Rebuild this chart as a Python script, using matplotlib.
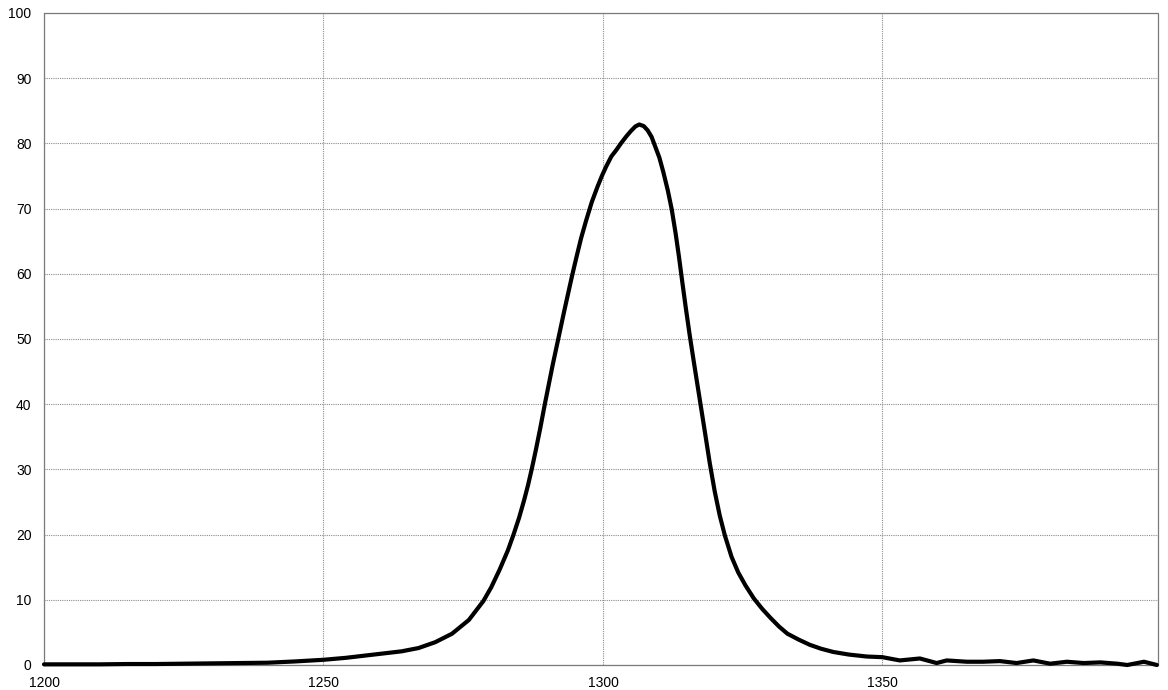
import matplotlib
matplotlib.use("Agg")
import matplotlib.pyplot as plt

# Spectrum values
wavelength = [
    1200, 1205, 1210, 1215, 1220, 1225, 1230, 1235, 1240, 1245,
    1250, 1254, 1258, 1261, 1264, 1267, 1270, 1273, 1276, 1278.6,
    1280, 1281.5, 1283, 1284, 1285, 1285.9, 1286.6, 1287.3, 1288.0, 1288.8,
    1289.6, 1290.3, 1291, 1291.7, 1292.4, 1293.1, 1293.8, 1294.5, 1295.3, 1296.1,
    1297.0, 1298.0, 1299.0, 1299.8, 1300.6, 1301.5, 1302.4, 1303.3, 1304.2, 1305.0,
    1305.8, 1306.5, 1307.3, 1308.0, 1308.7, 1309.4, 1310.1, 1310.8, 1311.6, 1312.3,
    1313.0, 1313.6, 1314.2, 1314.8, 1315.5, 1316.2, 1316.9, 1317.6, 1318.3, 1319.1,
    1320.0, 1320.9, 1321.8, 1323.0, 1324.2, 1325.5, 1327.0, 1328.5, 1330.0, 1331.5,
    1333.0, 1335.0, 1337.0, 1339.0, 1341.2, 1344.0, 1347.2, 1350.0, 1353.1, 1356.7,
    1359.7, 1361.5, 1365.1, 1368.0, 1371.0, 1374.0, 1377.0, 1380.0, 1383.0, 1386.0,
    1389.0, 1392.0, 1393.8, 1396.8, 1399.1,
]
intensity = [
    0.1, 0.1, 0.1, 0.15, 0.15, 0.2, 0.25, 0.3, 0.35, 0.55,
    0.8, 1.1, 1.5, 1.8, 2.1, 2.6, 3.5, 4.8, 6.9, 9.8,
    11.9, 14.6, 17.6, 20.0, 22.6, 25.3, 27.6, 30.2, 33.0, 36.4,
    40.0, 43.0, 46.0, 48.8, 51.6, 54.4, 57.1, 59.8, 62.7, 65.5,
    68.2, 71.0, 73.3, 75.0, 76.5, 78.0, 79.0, 80.1, 81.1, 81.9,
    82.6, 82.9, 82.65, 82.0, 81.0, 79.4, 77.8, 75.6, 72.8, 69.9,
    66.2, 62.6, 58.7, 54.9, 50.7, 46.8, 43.0, 39.2, 35.4, 31.0,
    26.6, 22.9, 19.9, 16.6, 14.2, 12.2, 10.2, 8.6, 7.2, 5.9,
    4.8, 3.9, 3.1, 2.5, 2.0, 1.6, 1.3, 1.2, 0.7, 1.0,
    0.3, 0.7, 0.5, 0.5, 0.6, 0.3, 0.7, 0.2, 0.5, 0.3,
    0.4, 0.2, 0.0, 0.5, 0.0,
]

x_ticks = [1200, 1250, 1300, 1350]
y_ticks = [0, 10, 20, 30, 40, 50, 60, 70, 80, 90, 100]

plt.rcParams["font.family"] = ["Liberation Sans", "DejaVu Sans"]

fig = plt.figure(figsize=(11.68, 6.90), dpi=100)
ax = fig.add_axes([44 / 1168, 25 / 690, (1158 - 44) / 1168, (665 - 13) / 690])

ax.plot(wavelength, intensity, color="black", linewidth=3.0,
        solid_joinstyle="round", solid_capstyle="round", clip_on=False, zorder=3)

ax.set_xlim(1200, 1399.3)
ax.set_ylim(0, 100)
ax.set_xticks(x_ticks)
ax.set_yticks(y_ticks)

# Excel-like dotted grey grid, no tick marks
ax.grid(True, color="#8c8c8c", linestyle=(0, (1, 1)), linewidth=0.8)
ax.tick_params(length=0, labelsize=10, colors="black")
ax.tick_params(axis="y", pad=9)
ax.tick_params(axis="x", pad=8)

for side in ("left", "top", "right", "bottom"):
    ax.spines[side].set_color("#7a7a7a")
    ax.spines[side].set_linewidth(0.9)
    ax.spines[side].set_linestyle((0, (1, 1)))

fig.savefig("out.png", dpi=100)
